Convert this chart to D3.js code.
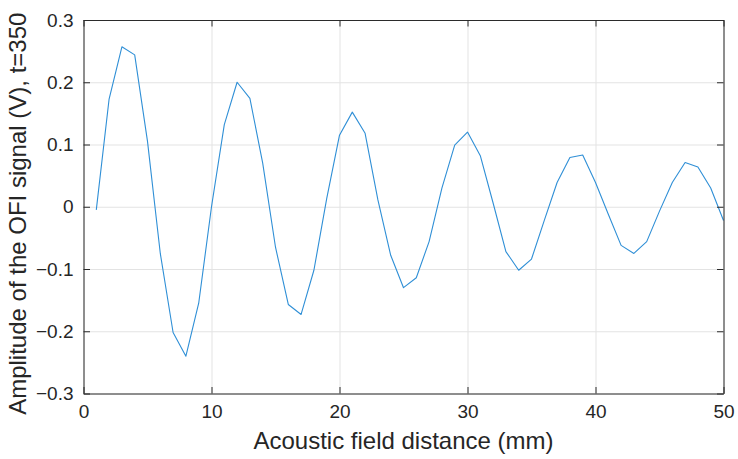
<!DOCTYPE html>
<html>
<head>
<meta charset="utf-8">
<script src="https://cdn.jsdelivr.net/npm/d3@7"></script>
<style>
  html, body { margin: 0; padding: 0; background: #ffffff; }
  svg { display: block; }
  text { font-family: "Liberation Sans", Arial, Helvetica, sans-serif; fill: #262626; }
</style>
</head>
<body>
<svg id="chart" width="738" height="459"></svg>
<script>
// ---- data ----
const distances = [1,2,3,4,5,6,7,8,9,10,11,12,13,14,15,16,17,18,19,20,21,22,23,24,25,26,27,28,29,30,31,32,33,34,35,36,37,38,39,40,41,42,43,44,45,46,47,48,49,50];
const amplitudes = [-0.005,0.173,0.257,0.244,0.105,-0.075,-0.202,-0.240,-0.155,0.000,
                    0.132,0.200,0.174,0.070,-0.065,-0.157,-0.173,-0.102,0.013,0.115,
                    0.152,0.118,0.011,-0.078,-0.130,-0.114,-0.056,0.030,0.099,0.120,
                    0.082,0.006,-0.072,-0.102,-0.084,-0.022,0.039,0.079,0.083,0.039,
                    -0.012,-0.062,-0.075,-0.056,-0.007,0.039,0.071,0.064,0.030,-0.022];
const xTicks = [0,10,20,30,40,50];
const yTicks = [-0.3,-0.2,-0.1,0,0.1,0.2,0.3];
const xLabel = "Acoustic field distance (mm)";
const yLabel = "Amplitude of the OFI signal (V), t=350";

// ---- layout ----
const pL = 83.5, pR = 723.5, pT = 20, pB = 393.5;
const W = pR - pL, H = pB - pT;
const axisColor = "#2b2b2b", gridColor = "#e3e3e3", lineColor = "#2f8fd6";
const tickLen = 6.5;

const svg = d3.select("#chart");
const x = d3.scaleLinear().domain([0, 50]).range([pL, pR]);
const y = d3.scaleLinear().domain([-0.3, 0.3]).range([pB, pT]);

const yFmt = d => d === 0 ? "0" : d3.format(".1f")(d);

// grid
svg.append("g").attr("transform", `translate(0,${pB})`)
  .call(d3.axisBottom(x).tickValues(xTicks).tickSize(-H).tickFormat(""))
  .call(g => g.select(".domain").remove())
  .call(g => g.selectAll("line").attr("stroke", gridColor).attr("stroke-width", 1));
svg.append("g").attr("transform", `translate(${pL},0)`)
  .call(d3.axisLeft(y).tickValues(yTicks).tickSize(-W).tickFormat(""))
  .call(g => g.select(".domain").remove())
  .call(g => g.selectAll("line").attr("stroke", gridColor).attr("stroke-width", 1));

// data line
const line = d3.line().x((d, i) => x(distances[i])).y(d => y(d));
svg.append("path")
  .datum(amplitudes)
  .attr("d", line)
  .attr("fill", "none")
  .attr("stroke", lineColor)
  .attr("stroke-width", 1.1)
  .attr("stroke-linejoin", "round");

// axes (inward ticks, box)
function styleAxis(g) {
  g.select(".domain").attr("stroke", axisColor).attr("stroke-width", 1);
  g.selectAll(".tick line").attr("stroke", axisColor).attr("stroke-width", 1);
  g.selectAll(".tick text").attr("fill", axisColor)
    .style("font-size", "19px")
    .style("font-family", '"Liberation Sans", Arial, Helvetica, sans-serif');
}
svg.append("g").attr("transform", `translate(0,${pB})`)
  .call(d3.axisBottom(x).tickValues(xTicks).tickSizeInner(-tickLen).tickSizeOuter(0).tickPadding(11).tickFormat(d3.format("d")))
  .call(styleAxis);
svg.append("g").attr("transform", `translate(0,${pT})`)
  .call(d3.axisTop(x).tickValues(xTicks).tickSizeInner(-tickLen).tickSizeOuter(0).tickFormat(""))
  .call(styleAxis);
svg.append("g").attr("transform", `translate(${pL},0)`)
  .call(d3.axisLeft(y).tickValues(yTicks).tickSizeInner(-tickLen).tickSizeOuter(0).tickPadding(10).tickFormat(yFmt))
  .call(styleAxis);
svg.append("g").attr("transform", `translate(${pR},0)`)
  .call(d3.axisRight(y).tickValues(yTicks).tickSizeInner(-tickLen).tickSizeOuter(0).tickFormat(""))
  .call(styleAxis);

// axis labels
svg.append("text")
  .attr("x", (pL + pR) / 2).attr("y", 449)
  .attr("text-anchor", "middle")
  .style("font-size", "24px")
  .text(xLabel);
svg.append("text")
  .attr("transform", `translate(26,${(pT + pB) / 2 + 7}) rotate(-90)`)
  .attr("text-anchor", "middle")
  .style("font-size", "24px")
  .text(yLabel);
</script>
</body>
</html>
